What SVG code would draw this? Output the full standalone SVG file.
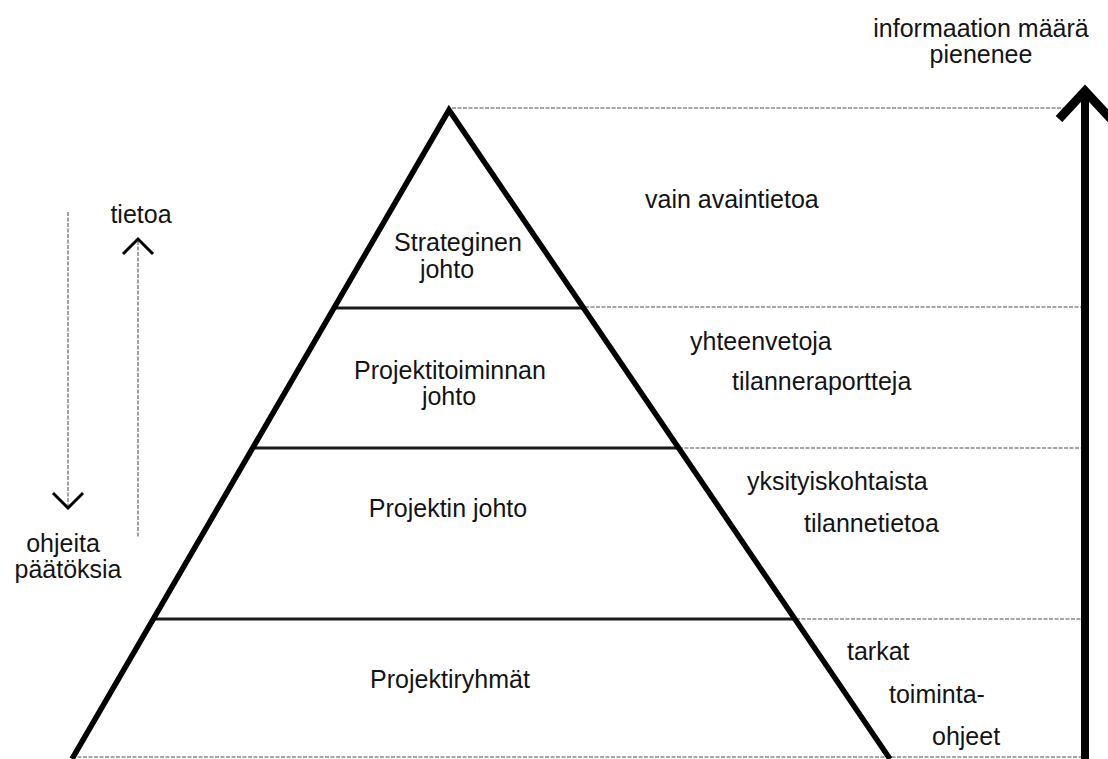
<svg xmlns="http://www.w3.org/2000/svg" width="1108" height="759" viewBox="0 0 1108 759">
<style>
text{font-family:"Liberation Sans",Arial,sans-serif;font-size:25px;fill:#141414}
.m{text-anchor:middle}
.dot{stroke:#8a8a8a;stroke-width:1.6;stroke-dasharray:4 1.5;fill:none}
.solid{stroke:#1a1a1a;stroke-width:3;fill:none}
.edge{stroke:#000;stroke-width:5.5;fill:none;stroke-linejoin:miter}
.chev{stroke:#000;stroke-width:3;fill:none}
</style>
<rect width="1108" height="759" fill="#fff"/>
<g id="connectors">
<line class="dot" x1="452" y1="108" x2="1068" y2="108"/>
<line class="dot" x1="585" y1="307" x2="1085" y2="307"/>
<line class="dot" x1="679" y1="448" x2="1085" y2="448"/>
<line class="dot" x1="796" y1="619" x2="1085" y2="619"/>
<line class="dot" x1="72" y1="757" x2="1085" y2="757"/>
<line class="dot" x1="68" y1="212" x2="68" y2="506"/>
<polyline class="chev" points="53,493 68,508 83,493"/>
<line class="dot" x1="138" y1="241" x2="138" y2="537"/>
<polyline class="chev" points="123,254 138,239 153,254"/>
<line x1="1085" y1="96" x2="1085" y2="759" stroke="#000" stroke-width="8"/>
<polyline points="1059,119 1085,91 1111,119" stroke="#000" stroke-width="9" fill="none"/>
</g>
<g id="pyramid">
<line class="solid" x1="335" y1="308" x2="585" y2="308"/>
<line class="solid" x1="253" y1="448" x2="679" y2="448"/>
<line class="solid" x1="154" y1="619" x2="796" y2="619"/>
<polyline class="edge" points="72,759 449,110 890,759"/>
</g>
<g id="level-strategic">
<text class="m" x="458" y="251">Strateginen</text>
<text class="m" x="447" y="278">johto</text>
<text x="645" y="208">vain avaintietoa</text>
</g>
<g id="level-portfolio">
<text class="m" x="450" y="379">Projektitoiminnan</text>
<text class="m" x="449" y="405">johto</text>
<text x="690" y="350">yhteenvetoja</text>
<text x="732" y="390">tilanneraportteja</text>
</g>
<g id="level-project">
<text class="m" x="448" y="517">Projektin johto</text>
<text x="747" y="490">yksityiskohtaista</text>
<text x="804" y="532">tilannetietoa</text>
</g>
<g id="level-teams">
<text class="m" x="450" y="688">Projektiryhmät</text>
<text x="847" y="660">tarkat</text>
<text x="889" y="703">toiminta-</text>
<text x="932" y="745">ohjeet</text>
</g>
<g id="side-labels">
<text class="m" x="981" y="37">informaation määrä</text>
<text class="m" x="981" y="63">pienenee</text>
<text class="m" x="141" y="223">tietoa</text>
<text class="m" x="63" y="552">ohjeita</text>
<text class="m" x="68" y="578">päätöksia</text>
</g>
</svg>
